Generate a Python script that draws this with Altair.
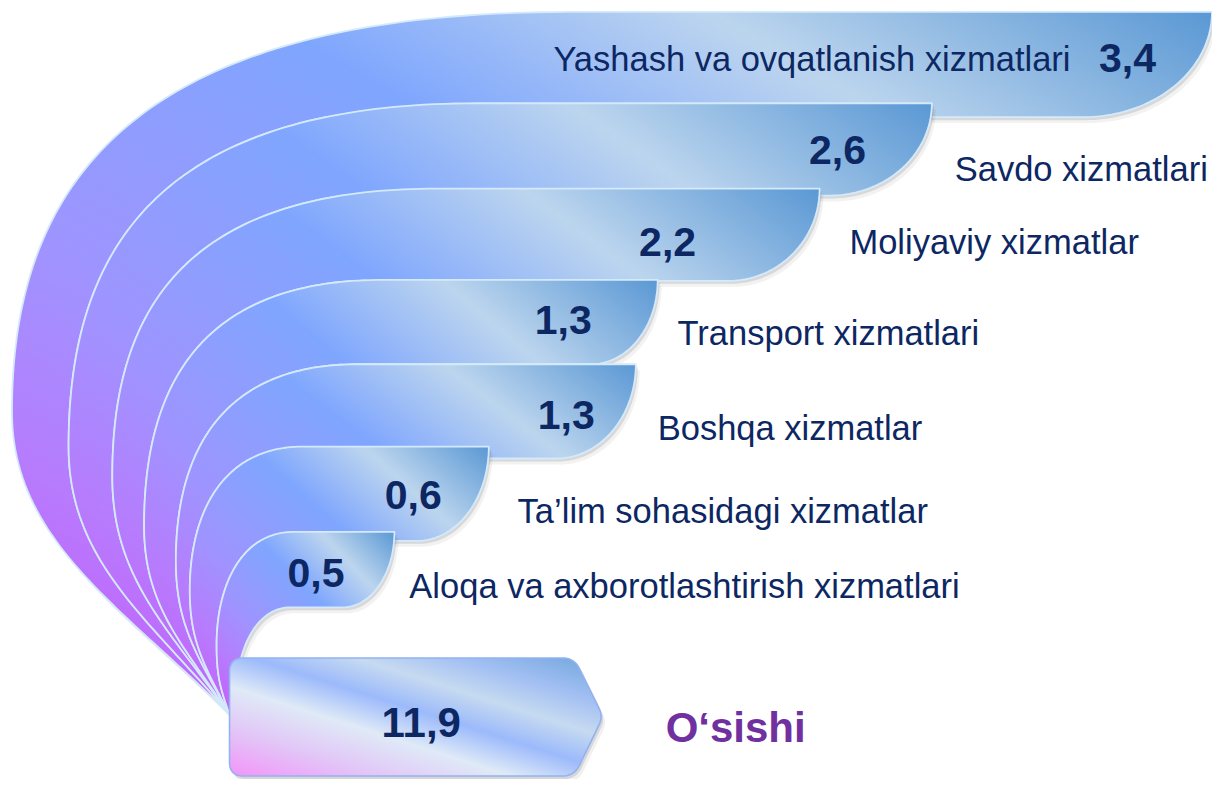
import altair as alt
import numpy as np
import pandas as pd

# ---------------- data ----------------
categories = ["Yashash va ovqatlanish xizmatlari", "Savdo xizmatlari", "Moliyaviy xizmatlar",
              "Transport xizmatlari", "Boshqa xizmatlar", "Ta\u2019lim sohasidagi xizmatlar",
              "Aloqa va axborotlashtirish xizmatlari"]
values = [3.4, 2.6, 2.2, 1.3, 1.3, 0.6, 0.5]
total_value = 11.9
total_label = "O\u2018sishi"

# ---------------- layout (picture pixels) ----------------
band_top = [12, 104, 190, 282, 367, 450, 536, 612]
band_bottom = [118, 197, 283, 367, 462, 545, 612]
band_right = [1220, 938, 825, 662, 640, 492, 397]
band_right_bottom = [1090, 835, 733, 595, 560, 420, 345]
band_left = [12, 69, 113, 145, 177, 191, 218, 238]
band_left_y = [415, 450, 480, 530, 565, 595, 650, 700]
band_corner = [572, 480, 440, 385, 360, 305, 295, 292]
band_flat = [0.8, 0.8, 0.8, 0.78, 0.75, 0.7, 0.65, 0.6]
join_point = (231, 720)
join_point_inner = (236, 722)

box_vertices_x = [231, 578, 607, 578, 231]
box_vertices_y = [663, 663, 722, 782, 782]
box_radius = [14, 12, 9, 12, 14]

value_x = [1135, 843, 672, 567, 570, 416, 318]
value_y = [72, 165, 258, 337, 432, 513, 592]
label_x = [557, 961, 855, 682, 662, 521, 412]
label_y = [71, 182, 256, 348, 443, 527, 603]
total_xy = (424, 743)
total_label_xy = (670, 748)

FONT = "Liberation Sans, Arial, sans-serif"
NAVY = "#0d2763"
PURPLE = "#7030a0"

band_gradient = {
    "gradient": "linear", "x1": 0, "y1": 1, "x2": 1, "y2": 0,
    "stops": [
        {"offset": 0.0, "color": "#c956fa"},
        {"offset": 0.18, "color": "#b77bfd"},
        {"offset": 0.34, "color": "#a093ff"},
        {"offset": 0.6, "color": "#7fa6fe"},
        {"offset": 0.79, "color": "#bcd5ee"},
        {"offset": 1.0, "color": "#5a98d4"},
    ],
}
box_gradient = {
    "gradient": "linear", "x1": 0, "y1": 1, "x2": 1, "y2": 0,
    "stops": [
        {"offset": 0.0, "color": "#f393f9"},
        {"offset": 0.2, "color": "#e2c6f7"},
        {"offset": 0.38, "color": "#dfeaf7"},
        {"offset": 0.53, "color": "#9cbafb"},
        {"offset": 0.67, "color": "#c6daf0"},
        {"offset": 0.81, "color": "#a2bff3"},
        {"offset": 1.0, "color": "#6ea5da"},
    ],
}

xs = alt.Scale(domain=[8, 1220], nice=False, zero=False)
ys = alt.Scale(domain=[8, 785], nice=False, zero=False, reverse=True)


def bez(p0, p1, p2, p3, n):
    t = np.linspace(0, 1, n)[:, None]
    p0, p1, p2, p3 = map(np.array, (p0, p1, p2, p3))
    return (1 - t) ** 3 * p0 + 3 * (1 - t) ** 2 * t * p1 + 3 * (1 - t) * t ** 2 * p2 + t ** 3 * p3


def outer_curve(k):
    Lx, Ly, Cx, T = band_left[k], band_left_y[k], band_corner[k], band_top[k]
    W, H = Cx - Lx, Ly - T
    b = band_flat[k]
    up = bez((Lx, Ly), (Lx, Ly - 0.55 * H), (Cx - b * W, T), (Cx, T), 90)
    p0 = join_point if k < 7 else join_point_inner
    dx, dy = p0[0] - Lx, p0[1] - Ly
    phi = np.arctan2(dy, dx) - np.radians(9)
    s = 0.4 * np.hypot(dx, dy)
    low = bez((Lx, Ly), (Lx, Ly + 0.43 * dy),
              (p0[0] - s * np.cos(phi), p0[1] - s * np.sin(phi)), p0, 50)
    return np.vstack([low[::-1], up[1:]])


def band_polygon(k):
    out = outer_curve(k)
    R, Rb, T, B = band_right[k], band_right_bottom[k], band_top[k], band_bottom[k]
    th = np.linspace(0, np.pi / 2, 50)
    arc = np.column_stack([Rb + (R - Rb) * np.cos(th), T + (B - T) * np.sin(th)])
    nxt = outer_curve(k + 1)[::-1]
    idx = int(np.argmax(nxt[:, 1] >= B))
    if idx > 0:
        p, q = nxt[idx - 1], nxt[idx]
        f = (B - p[1]) / (q[1] - p[1])
        xi = p[0] + f * (q[0] - p[0])
    else:
        xi = nxt[0, 0]
    return np.vstack([out, arc, [[xi, B]], nxt[idx:], out[:1]])


def rounded_polygon(xv, yv, rads):
    pts = np.column_stack([xv, yv]).astype(float)
    n = len(pts)
    res = []
    for i in range(n):
        v, p, q = pts[i], pts[i - 1], pts[(i + 1) % n]
        r = rads[i]
        a = v + (p - v) * r / np.linalg.norm(p - v)
        c = v + (q - v) * r / np.linalg.norm(q - v)
        t = np.linspace(0, 1, 12)[:, None]
        res.append((1 - t) ** 2 * a + 2 * (1 - t) * t * v + t ** 2 * c)
    res = np.vstack(res)
    return np.vstack([res, res[:1]])


def poly_df(pts, dx=0.0, dy=0.0):
    return pd.DataFrame({"x": pts[:, 0] + dx, "y": pts[:, 1] + dy, "i": np.arange(len(pts))})


def poly_layer(df, **mark):
    return alt.Chart(df).mark_line(interpolate="linear", strokeJoin="round", **mark).encode(
        x=alt.X("x:Q", scale=xs, axis=None),
        y=alt.Y("y:Q", scale=ys, axis=None),
        order=alt.Order("i:Q"),
    )


layers = []
for k in range(7):
    pts = band_polygon(k)
    layers.append(poly_layer(poly_df(pts, 4, 6), fill="#404040", fillOpacity=0.07, strokeOpacity=0))
    layers.append(poly_layer(poly_df(pts, 2, 3), fill="#404040", fillOpacity=0.14, strokeOpacity=0))
    layers.append(poly_layer(poly_df(pts), fill=band_gradient, stroke="#d4eafb", strokeWidth=1.8))

box = rounded_polygon(box_vertices_x, box_vertices_y, box_radius)
layers.append(poly_layer(poly_df(box, 4, 6), fill="#404040", fillOpacity=0.08, strokeOpacity=0))
layers.append(poly_layer(poly_df(box, 2, 3), fill="#404040", fillOpacity=0.15, strokeOpacity=0))
layers.append(poly_layer(poly_df(box), fill=box_gradient, stroke="#93b2f2", strokeWidth=1.6))


def fmt(v):
    return f"{v:.1f}".replace(".", ",")


val_df = pd.DataFrame({"x": value_x, "y": value_y, "t": [fmt(v) for v in values]})
lab_df = pd.DataFrame({"x": label_x, "y": label_y, "t": categories})
tot_df = pd.DataFrame({"x": [total_xy[0]], "y": [total_xy[1]], "t": [fmt(total_value)]})
tl_df = pd.DataFrame({"x": [total_label_xy[0]], "y": [total_label_xy[1]], "t": [total_label]})


def text_layer(df, **mark):
    return alt.Chart(df).mark_text(baseline="alphabetic", font=FONT, **mark).encode(
        x=alt.X("x:Q", scale=xs, axis=None),
        y=alt.Y("y:Q", scale=ys, axis=None),
        text="t:N",
    )


layers.append(text_layer(lab_df, align="left", fontSize=34.5, color=NAVY))
layers.append(text_layer(val_df, align="center", fontSize=41, fontWeight="bold", color=NAVY))
layers.append(text_layer(tot_df, align="center", fontSize=42, fontWeight="bold", color=NAVY))
layers.append(text_layer(tl_df, align="left", fontSize=42, fontWeight="bold", color=PURPLE))

chart = alt.layer(*layers).properties(
    width=1204, height=771, autosize=alt.AutoSizeParams(type="none"), padding=0,
    background="white",
).configure_view(stroke=None)

chart.save("out.html", embed_options={"renderer": "svg", "actions": False})
